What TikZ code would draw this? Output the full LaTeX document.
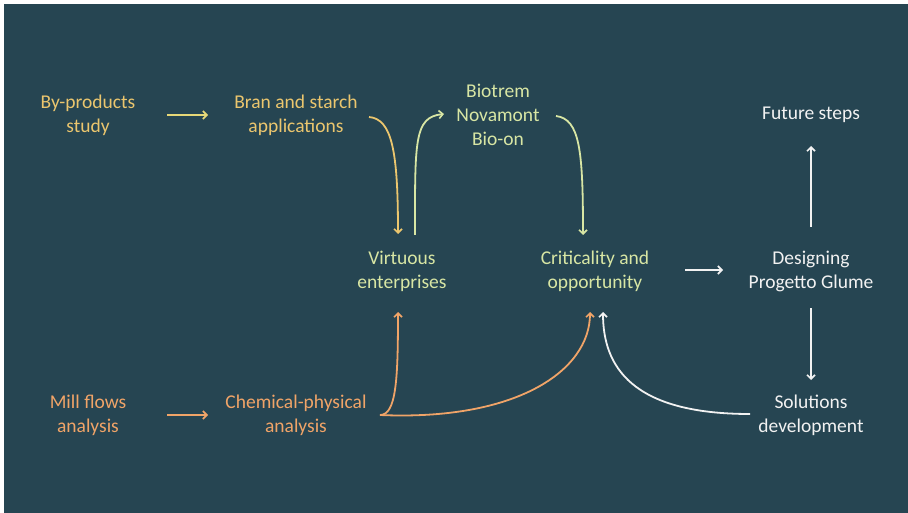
\documentclass[tikz,border=0pt]{standalone}
\usepackage{fontspec}
\setmainfont{Carlito}
\usetikzlibrary{arrows.meta,calc}
\definecolor{bg}{HTML}{264552}
\definecolor{cyel}{HTML}{EBC66E}
\definecolor{cgrn}{HTML}{D8E6A4}
\definecolor{corg}{HTML}{F0A468}
\definecolor{cwht}{HTML}{F2F2F2}
\definecolor{cyg}{HTML}{E6D878}
\tikzset{
  lbl/.style={align=center,inner sep=0pt,font=\fontsize{19.5}{24}\selectfont},
  arr/.style={line width=1.8pt,-{Straight Barb[length=4pt,width=8pt,line width=1.6pt]}},
}
\begin{document}
\begin{tikzpicture}[x=1pt,y=-1pt]
\fill[white] (0,0) rectangle (908,513);
\fill[bg] (4,4) rectangle (908,513);
\useasboundingbox (0,0) rectangle (908,513);
% nodes
\node[lbl,text=cyel] (by) at (88,115) {By-products\\study};
\node[lbl,text=cyel] (bran) at (296,115) {Bran and starch\\applications};
\node[lbl,text=cgrn] (bio) at (498,115) {Biotrem\\Novamont\\Bio-on};
\node[lbl,text=cwht] (fut) at (811,115) {Future steps};
\node[lbl,text=cgrn] (virt) at (402,271) {Virtuous\\enterprises};
\node[lbl,text=cgrn] (crit) at (595,271) {Criticality and\\opportunity};
\node[lbl,text=cwht] (des) at (811,271) {Designing\\Progetto Glume};
\node[lbl,text=corg] (mill) at (88,415) {Mill flows\\analysis};
\node[lbl,text=corg] (chem) at (296,415) {Chemical-physical\\analysis};
\node[lbl,text=cwht] (sol) at (811,415) {Solutions\\development};
% connectors
\draw[arr,cyg] ($(by)+(79,0)$) -- ($(bran)+(-88,0)$);
\draw[arr,corg] ($(mill)+(79,0)$) -- ($(chem)+(-88,0)$);
\draw[arr,cyel] ($(bran)+(73,2)$) .. controls ($(bran)+(96,4)$) and ($(virt)+(-4,-120)$) .. ($(virt)+(-4,-37)$);
\draw[arr,cgrn] ($(virt)+(13,-36)$) .. controls ($(virt)+(13,-130)$) and ($(bio)+(-84,2)$) .. ($(bio)+(-54,-1)$);
\draw[arr,cgrn] ($(bio)+(58,1)$) .. controls ($(bio)+(82,4)$) and ($(crit)+(-12,-120)$) .. ($(crit)+(-12,-36)$);
\draw[arr,cwht] ($(crit)+(90,-1)$) -- ($(des)+(-88,-1)$);
\draw[arr,cwht] ($(des)+(0,-44)$) -- ($(fut)+(0,31)$);
\draw[arr,cwht] ($(des)+(0,37)$) -- ($(sol)+(0,-35)$);
\draw[arr,cwht] ($(sol)+(-61,-1)$) .. controls ($(sol)+(-180,-1)$) and ($(crit)+(8,95)$) .. ($(crit)+(8,41)$);
\draw[arr,corg] ($(chem)+(84,0)$) .. controls ($(chem)+(100,0)$) and ($(virt)+(-4,110)$) .. ($(virt)+(-4,41)$);
\draw[arr,corg] ($(chem)+(84,0)$) .. controls ($(chem)+(220,6)$) and ($(crit)+(-5,100)$) .. ($(crit)+(-5,41)$);
\end{tikzpicture}
\end{document}
